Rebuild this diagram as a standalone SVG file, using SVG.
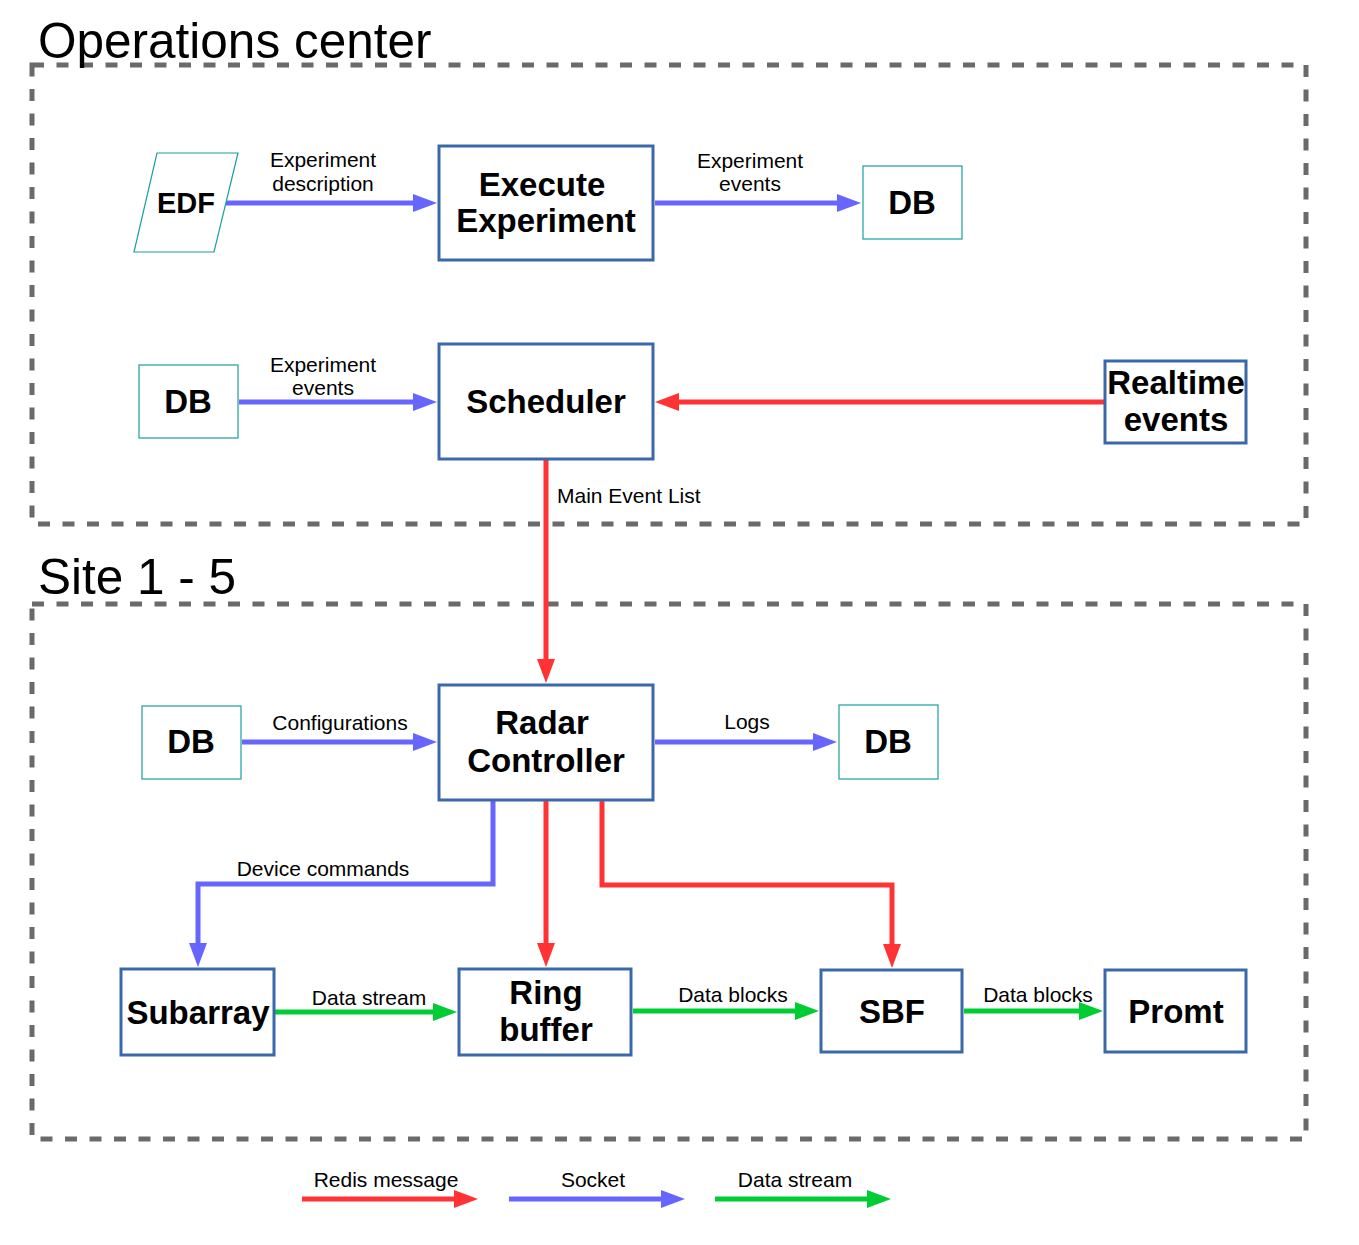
<svg xmlns="http://www.w3.org/2000/svg" width="1359" height="1245" viewBox="0 0 1359 1245">
<defs>
<style>
.frame{fill:none;stroke:#6a6a6a;stroke-width:5;stroke-dasharray:12 12.5}
.title{font-family:"Liberation Sans",Arial,sans-serif;font-size:49.5px;fill:#000}
.node{fill:#fff;stroke:#3a68a8;stroke-width:3}
.db{fill:#fff;stroke:#1a9e9e;stroke-width:1.2}
.nt{font-family:"Liberation Sans",Arial,sans-serif;font-weight:bold;font-size:33px;fill:#000;text-anchor:middle}
.lb{font-family:"Liberation Sans",Arial,sans-serif;font-size:21px;fill:#000;text-anchor:middle}
.lbs{font-family:"Liberation Sans",Arial,sans-serif;font-size:21px;fill:#000;text-anchor:start}
.blue{fill:none;stroke:#6666ff;stroke-width:5}
.red{fill:none;stroke:#ff3333;stroke-width:5}
.green{fill:none;stroke:#00cc33;stroke-width:5}
</style>
<marker id="ab" markerWidth="24" markerHeight="18" refX="14" refY="9" orient="auto" markerUnits="userSpaceOnUse"><path d="M0,0 L24,9 L0,18 z" fill="#6666ff"/></marker>
<marker id="ar" markerWidth="24" markerHeight="18" refX="14" refY="9" orient="auto" markerUnits="userSpaceOnUse"><path d="M0,0 L24,9 L0,18 z" fill="#ff3333"/></marker>
<marker id="ag" markerWidth="24" markerHeight="18" refX="14" refY="9" orient="auto" markerUnits="userSpaceOnUse"><path d="M0,0 L24,9 L0,18 z" fill="#00cc33"/></marker>
</defs>
<rect width="1359" height="1245" fill="#fff"/>

<g id="frames">
<rect class="frame" x="32" y="65" width="1274" height="459"/>
<text class="title" x="38" y="58">Operations center</text>
<rect class="frame" x="32" y="604" width="1274" height="535"/>
<text class="title" x="38" y="594">Site 1 - 5</text>
</g>

<g id="connectors">
<path class="blue" d="M226,203 H427" marker-end="url(#ab)"/>
<text class="lb" x="323" y="167">Experiment</text>
<text class="lb" x="323" y="191">description</text>
<path class="blue" d="M655,203 H851" marker-end="url(#ab)"/>
<text class="lb" x="750" y="168">Experiment</text>
<text class="lb" x="750" y="191">events</text>
<path class="blue" d="M239,402 H427" marker-end="url(#ab)"/>
<text class="lb" x="323" y="372">Experiment</text>
<text class="lb" x="323" y="395">events</text>
<path class="red" d="M1105,402 H665" marker-end="url(#ar)"/>
<path class="red" d="M546,460 V673" marker-end="url(#ar)"/>
<text class="lbs" x="557" y="503">Main Event List</text>
<path class="blue" d="M242,742 H427" marker-end="url(#ab)"/>
<text class="lb" x="340" y="730">Configurations</text>
<path class="blue" d="M655,742 H827" marker-end="url(#ab)"/>
<text class="lb" x="747" y="729">Logs</text>
<path class="blue" d="M493,801 V884 H198 V957" marker-end="url(#ab)"/>
<text class="lb" x="323" y="876">Device commands</text>
<path class="red" d="M546,801 V957" marker-end="url(#ar)"/>
<path class="red" d="M602,801 V885 H892 V958" marker-end="url(#ar)"/>
<path class="green" d="M275,1012 H447" marker-end="url(#ag)"/>
<text class="lb" x="369" y="1005">Data stream</text>
<path class="green" d="M633,1011 H809" marker-end="url(#ag)"/>
<text class="lb" x="733" y="1002">Data blocks</text>
<path class="green" d="M964,1011 H1093" marker-end="url(#ag)"/>
<text class="lb" x="1038" y="1002">Data blocks</text>
</g>

<g id="legend">
<path class="red" d="M302,1199 H468" marker-end="url(#ar)"/>
<text class="lb" x="386" y="1187">Redis message</text>
<path class="blue" d="M509,1199 H675" marker-end="url(#ab)"/>
<text class="lb" x="593" y="1187">Socket</text>
<path class="green" d="M715,1199 H881" marker-end="url(#ag)"/>
<text class="lb" x="795" y="1187">Data stream</text>
</g>

<g id="edf">
<polygon class="db" points="157,153 238,153 214,252 134,252"/>
<text class="nt" x="186" y="213" style="font-size:29px">EDF</text>
</g>
<g id="execute">
<rect class="node" x="439" y="146" width="214" height="114"/>
<text class="nt" x="542" y="196">Execute</text>
<text class="nt" x="546" y="232">Experiment</text>
</g>
<g id="db-events-out">
<rect class="db" x="863" y="166" width="99" height="73"/>
<text class="nt" x="912" y="214">DB</text>
</g>
<g id="db-events-in">
<rect class="db" x="139" y="365" width="99" height="73"/>
<text class="nt" x="188" y="413">DB</text>
</g>
<g id="scheduler">
<rect class="node" x="439" y="344" width="214" height="115"/>
<text class="nt" x="546" y="413">Scheduler</text>
</g>
<g id="realtime">
<rect class="node" x="1105" y="361" width="141" height="82"/>
<text class="nt" x="1176" y="394">Realtime</text>
<text class="nt" x="1176" y="431">events</text>
</g>
<g id="radar">
<rect class="node" x="439" y="685" width="214" height="115"/>
<text class="nt" x="542" y="734">Radar</text>
<text class="nt" x="546" y="772">Controller</text>
</g>
<g id="db-config">
<rect class="db" x="142" y="706" width="99" height="73"/>
<text class="nt" x="191" y="753">DB</text>
</g>
<g id="db-logs">
<rect class="db" x="839" y="705" width="99" height="74"/>
<text class="nt" x="888" y="753">DB</text>
</g>
<g id="subarray">
<rect class="node" x="121" y="969" width="153" height="86"/>
<text class="nt" x="198" y="1024">Subarray</text>
</g>
<g id="ring">
<rect class="node" x="459" y="969" width="172" height="86"/>
<text class="nt" x="546" y="1004">Ring</text>
<text class="nt" x="546" y="1041">buffer</text>
</g>
<g id="sbf">
<rect class="node" x="821" y="970" width="141" height="82"/>
<text class="nt" x="892" y="1023">SBF</text>
</g>
<g id="promt">
<rect class="node" x="1105" y="970" width="141" height="82"/>
<text class="nt" x="1176" y="1023">Promt</text>
</g>
</svg>
